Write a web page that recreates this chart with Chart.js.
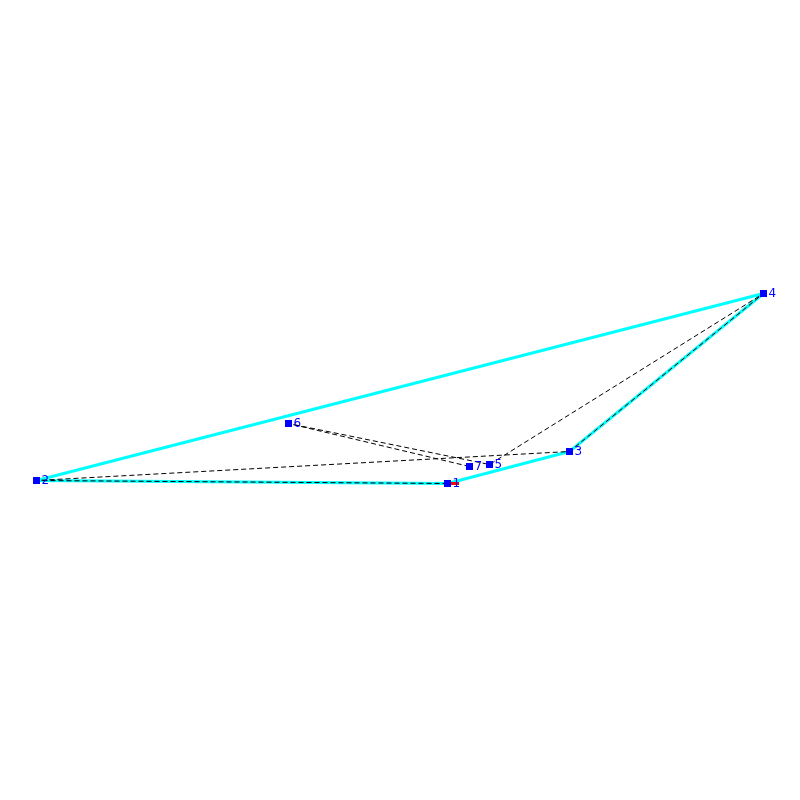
<!DOCTYPE html>
<html>
<head>
<meta charset="utf-8">
<style>html,body{margin:0;padding:0;background:#fff}canvas{display:block}</style>
<script src="https://cdn.jsdelivr.net/npm/chart.js@4"></script>
</head>
<body>
<canvas id="c" width="800" height="800"></canvas>
<script>
const nodeLabels = ["1","2","3","4","5","6","7"];
const nodeX = [447.5,36.5,569.5,763.5,489.5,288.5,469.5];
const nodeY = [483.5,480.5,451.5,293.5,464.5,423.5,466.5];
const hullOrder = [0,1,3,2,0];
const tourOrder = [0,1,2,3,4,5,6];
const redX = [447.5,459];
const redY = [483.5,483.5];
const pts = (order) => order.map(i => ({x:nodeX[i], y:nodeY[i]}));
const lineBase = {showLine:true, pointRadius:0, tension:0, fill:false, borderJoinStyle:'round'};
const labelPlugin = {
  id:'nodeLabels',
  afterDatasetsDraw(chart){
    const {ctx, scales:{x,y}} = chart;
    ctx.save();
    ctx.fillStyle='#0000ff';
    ctx.font='12px "DejaVu Sans"';
    ctx.textAlign='left';
    ctx.textBaseline='middle';
    nodeLabels.forEach((t,i)=>ctx.fillText(t, x.getPixelForValue(nodeX[i])+5, y.getPixelForValue(nodeY[i])));
    ctx.restore();
  }
};
new Chart(document.getElementById('c'),{
  type:'scatter',
  data:{datasets:[
    {...lineBase, data:pts(hullOrder), borderColor:'#00ffff', borderWidth:3, order:4},
    {...lineBase, data:redX.map((v,i)=>({x:v,y:redY[i]})), borderColor:'#ff0000', borderWidth:3, order:3},
    {...lineBase, data:pts(tourOrder), borderColor:'#000000', borderWidth:1, borderDash:[5,3], order:2},
    {data:pts(tourOrder), showLine:false, pointStyle:'rect', pointRadius:4.95, pointHoverRadius:4.95, pointBorderWidth:0, pointBackgroundColor:'#0000ff', order:1}
  ]},
  options:{
    responsive:false, animation:false, devicePixelRatio:1,
    layout:{padding:0, autoPadding:false},
    plugins:{legend:{display:false},tooltip:{enabled:false},title:{display:false}},
    scales:{
      x:{type:'linear',min:0,max:800,display:false},
      y:{type:'linear',min:0,max:800,reverse:true,display:false}
    }
  },
  plugins:[labelPlugin]
});
</script>
</body>
</html>
